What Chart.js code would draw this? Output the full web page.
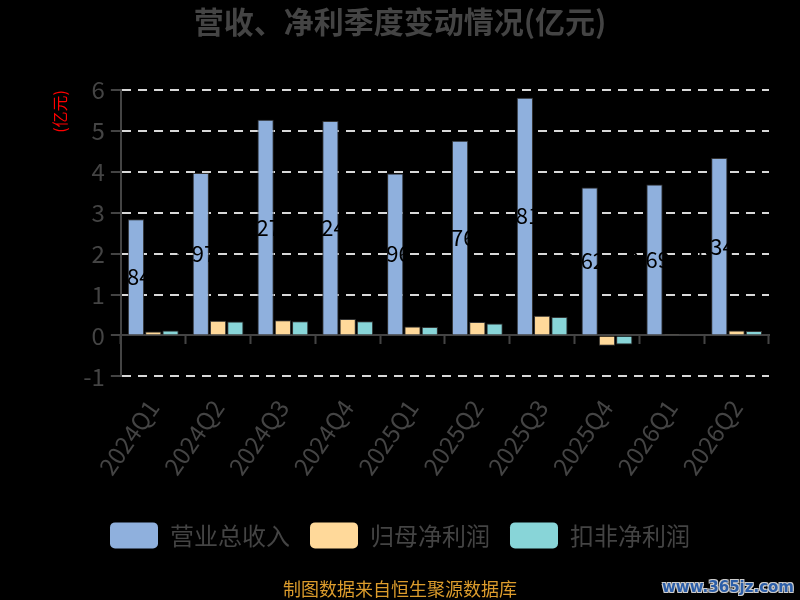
<!DOCTYPE html>
<html>
<head>
<meta charset="utf-8">
<script src="https://cdn.jsdelivr.net/npm/chart.js@4"></script>
<style>
    html, body { margin: 0; padding: 0; background: #000; }
    #wrap { position: relative; width: 800px; height: 600px; }
    #watermark {
        position: absolute; right: 6px; bottom: 4px;
        font: bold 15px "DejaVu Sans", sans-serif; color: #2c5ea8;
        text-shadow: -1px -1px 0 #ccc, 1px -1px 0 #ccc, -1px 1px 0 #ccc, 1px 1px 0 #ccc;
    }
</style>
</head>
<body>
<div id="wrap">
    <canvas id="chart" width="800" height="600"></canvas>
    <div id="watermark">www.365jz.com</div>
</div>
<script>
const quarters = ['2024Q1', '2024Q2', '2024Q3', '2024Q4', '2025Q1', '2025Q2', '2025Q3', '2025Q4', '2026Q1', '2026Q2'];
const revenue = [2.84, 3.97, 5.27, 5.24, 3.96, 4.76, 5.81, 3.62, 3.69, 4.34];
const netProfit = [0.10, 0.36, 0.37, 0.40, 0.22, 0.33, 0.48, -0.25, 0.03, 0.12];
const deductedProfit = [0.12, 0.34, 0.35, 0.35, 0.21, 0.29, 0.45, -0.22, 0.02, 0.11];
const seriesNames = ['营业总收入', '归母净利润', '扣非净利润'];

const FONT = '"Noto Sans CJK SC", "Noto Sans", sans-serif';
const AXIS = '#444';

// black value labels in the middle of the revenue bars
const barLabels = {
    id: 'barLabels',
    afterDatasetsDraw(chart) {
        const ctx = chart.ctx;
        const meta = chart.getDatasetMeta(0);
        ctx.save();
        ctx.fillStyle = '#000';
        ctx.font = '22px ' + FONT;
        ctx.textAlign = 'center';
        ctx.textBaseline = 'middle';
        meta.data.forEach((bar, i) => {
            ctx.fillText(revenue[i].toFixed(2), bar.x - 6, (bar.y + bar.base) / 2);
        });
        ctx.restore();
    }
};

new Chart(document.getElementById('chart'), {
    type: 'bar',
    data: {
        labels: quarters,
        datasets: [
            { label: seriesNames[0], data: revenue, backgroundColor: '#8fb0dd' },
            { label: seriesNames[1], data: netProfit, backgroundColor: '#ffd99a' },
            { label: seriesNames[2], data: deductedProfit, backgroundColor: '#88d5d8' }
        ]
    },
    options: {
        responsive: false,
        animation: false,
        layout: { padding: 0 },
        datasets: {
            bar: {
                borderColor: '#333',
                borderWidth: 1,
                categoryPercentage: 0.8,
                barPercentage: 0.94
            }
        },
        scales: {
            x: {
                position: { y: 0 },
                grid: {
                    drawOnChartArea: false, drawTicks: true, tickLength: 8,
                    tickColor: AXIS, tickWidth: 2, offset: true
                },
                border: { color: AXIS, width: 2 },
                ticks: { display: false }
            },
            xLabels: {
                type: 'category',
                labels: quarters,
                position: 'bottom',
                offset: true,
                grid: { display: false },
                border: { display: false },
                ticks: {
                    color: AXIS, font: { family: FONT, size: 24 },
                    minRotation: 55, maxRotation: 55, padding: 10
                },
                afterFit(scale) { scale.height = 126; }
            },
            y: {
                min: -1,
                max: 6,
                ticks: {
                    stepSize: 1, color: AXIS, padding: 6,
                    font: { family: FONT, size: 24 }
                },
                grid: {
                    color: '#d8d8d8', lineWidth: 2,
                    tickColor: AXIS, tickLength: 10, tickWidth: 2
                },
                border: { color: AXIS, width: 2, dash: [9, 7] },
                title: {
                    display: true, text: '(亿元)', color: '#ff0000', align: 'end',
                    font: { family: FONT, size: 16 },
                    padding: { top: 50, bottom: 8 }
                }
            },
            // empty right axis, only keeps the plot clear of the right edge
            ySpacer: {
                position: 'right',
                grid: { display: false },
                border: { display: false },
                ticks: { display: false },
                afterFit(scale) { scale.width = 31; }
            }
        },
        plugins: {
            title: {
                display: true,
                text: '营收、净利季度变动情况(亿元)',
                color: AXIS,
                font: { family: FONT, size: 30, weight: 'bold' },
                padding: { top: 4, bottom: 50 }
            },
            subtitle: {
                display: true,
                position: 'bottom',
                text: '制图数据来自恒生聚源数据库',
                color: '#dc9c2c',
                font: { family: FONT, size: 18 },
                padding: { top: 20, bottom: 0 }
            },
            legend: {
                position: 'bottom',
                labels: {
                    color: AXIS,
                    font: { family: FONT, size: 24 },
                    boxWidth: 48,
                    boxHeight: 26,
                    padding: 20,
                    useBorderRadius: true,
                    borderRadius: 5,
                    generateLabels(chart) {
                        return Chart.defaults.plugins.legend.labels.generateLabels(chart)
                            .map(item => Object.assign(item, { lineWidth: 0 }));
                    }
                }
            },
            tooltip: { enabled: false }
        }
    },
    plugins: [barLabels]
});
</script>
</body>
</html>
